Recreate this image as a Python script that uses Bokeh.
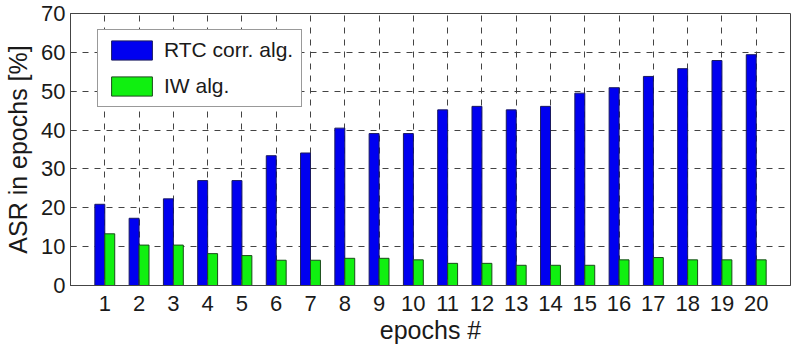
from bokeh.plotting import figure
from bokeh.models import ColumnDataSource, Range1d, FixedTicker, Legend, LegendItem
from bokeh.transform import dodge
from bokeh.embed import file_html
from bokeh.resources import INLINE

epochs = list(range(1, 21))
rtc_corr = [20.9, 17.3, 22.3, 27.0, 27.0, 33.4, 34.1, 40.5, 39.1, 39.1,
            45.2, 46.1, 45.2, 46.1, 49.5, 50.9, 53.8, 55.8, 57.9, 59.4]
iw_alg = [13.3, 10.4, 10.4, 8.2, 7.7, 6.5, 6.5, 7.0, 7.0, 6.6,
          5.7, 5.7, 5.2, 5.2, 5.2, 6.6, 7.2, 6.6, 6.6, 6.6]
y_ticks = [0, 10, 20, 30, 40, 50, 60, 70]

src = ColumnDataSource(dict(x=epochs, rtc=rtc_corr, iw=iw_alg))

p = figure(width=792, height=351, output_backend="svg", toolbar_location=None,
           x_range=Range1d(0, 21), y_range=Range1d(0, 70),
           min_border_left=70, min_border_right=2, min_border_top=13, min_border_bottom=66)
p.background_fill_color = "white"
p.border_fill_color = "white"
p.outline_line_color = "#444444"

r1 = p.vbar(x=dodge("x", -0.145, range=p.x_range), top="rtc", width=0.29, source=src,
            fill_color="#0000f0", line_color="#1a1a60", line_width=1)
r2 = p.vbar(x=dodge("x", 0.145, range=p.x_range), top="iw", width=0.29, source=src,
            fill_color="#10f010", line_color="#1a4a1a", line_width=1)

font = "Liberation Sans"
for ax in (p.xaxis[0], p.yaxis[0]):
    ax.major_tick_in = 6
    ax.major_tick_out = 0
    ax.minor_tick_line_color = None
    ax.axis_line_color = "#444444"
    ax.major_tick_line_color = "#444444"
    ax.major_label_text_font = font
    ax.major_label_text_font_size = "22px"
    ax.major_label_text_color = "#1a1a1a"
    ax.axis_label_text_font = font
    ax.axis_label_text_font_size = "25px"
    ax.axis_label_text_font_style = "normal"
    ax.axis_label_text_color = "#1a1a1a"

p.xaxis.ticker = FixedTicker(ticks=epochs)
p.yaxis.ticker = FixedTicker(ticks=y_ticks)
p.xaxis.axis_label = "epochs #"
p.yaxis.axis_label = "ASR in epochs [%]"
p.xaxis.major_label_standoff = 10
p.yaxis.major_label_standoff = 5
p.xaxis.axis_label_standoff = 2
p.yaxis.axis_label_standoff = 6

p.xgrid.ticker = FixedTicker(ticks=epochs)
p.ygrid.ticker = FixedTicker(ticks=y_ticks)
for g in (p.xgrid[0], p.ygrid[0]):
    g.grid_line_color = "#444444"
    g.grid_line_dash = "6 6"
    g.grid_line_width = 1

legend = Legend(items=[LegendItem(label="RTC corr. alg.", renderers=[r1]),
                       LegendItem(label="IW alg.", renderers=[r2])],
                location=(27, 178))
legend.glyph_width = 51
legend.glyph_height = 24
legend.label_height = 24
legend.label_text_font = font
legend.label_text_font_size = "21px"
legend.label_text_color = "#1a1a1a"
legend.padding = 8
legend.spacing = 12
legend.margin = 0
legend.label_standoff = 7
legend.border_line_color = "#333333"
legend.border_line_width = 1
legend.background_fill_alpha = 1
p.add_layout(legend, "center")

open("out.html", "w").write(file_html(p, INLINE))
